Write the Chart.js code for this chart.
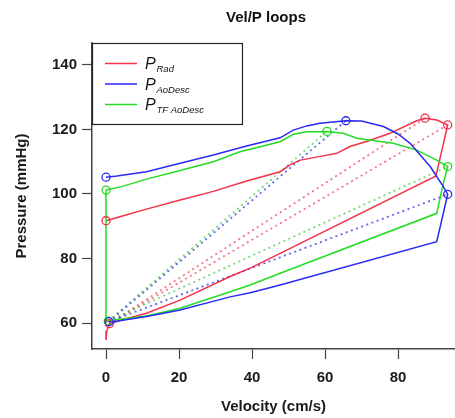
<!DOCTYPE html>
<html><head><meta charset="utf-8">
<script src="https://cdn.jsdelivr.net/npm/chart.js@4.4.1/dist/chart.umd.min.js"></script>
<style>html,body{margin:0;padding:0;background:#fff;}canvas{display:block;}</style>
</head><body>
<canvas id="c" width="455" height="418"></canvas>
<script>
// ---- data ----
const chartTitle = 'Vel/P loops';
const xTitle = 'Velocity (cm/s)';
const yTitle = 'Pressure (mmHg)';
const xTicks = [0, 20, 40, 60, 80];
const yTicks = [60, 80, 100, 120, 140];
const seriesSubs = ['Rad', 'AoDesc', 'TF AoDesc'];

// P_Rad loop
const radVel = [0, 5, 11.1, 20.3, 29.4, 38.5, 47.7, 50.4, 53.2, 58, 63.2, 66.8, 72, 77.8, 85.1, 87.4, 90.6, 93.6, 92, 90.4, 47.7, 39.5, 34, 20.3, 11.1, 5, 2, 0.9, 0.2, 0];
const radP   = [91.7, 93.3, 95.3, 98.1, 100.8, 104.0, 106.9, 109, 110.5, 111.5, 112.6, 114.7, 116.5, 118.8, 122.7, 123.5, 122.9, 121.4, 113.6, 105.6, 81.6, 77.0, 74.4, 67.1, 63.0, 61.2, 60.1, 59.7, 57.5, 54.7];
// P_AoDesc loop
const aoVel = [0, 3, 11.1, 20.3, 29.4, 38.5, 47.7, 51.3, 55, 58.6, 65.7, 70, 76, 80, 83.3, 88.8, 92.4, 93.6, 90.6, 47.7, 39.5, 34, 20.3, 11.1, 2, 0.8];
const aoP   = [105.2, 105.6, 106.9, 109.5, 112.1, 114.9, 117.4, 119.8, 121.1, 121.9, 122.7, 122.6, 120.9, 118.6, 115.7, 108.5, 102.3, 99.9, 85.2, 71.8, 69.4, 68.1, 64.0, 62.0, 60.4, 60.4];
// P_TF AoDesc loop
const tfVel = [0, 4, 11.1, 20.3, 29.4, 36.7, 47.7, 51.3, 55, 58.6, 60.5, 65, 68.7, 78.7, 85.1, 90.6, 93.6, 92.4, 90.6, 47.7, 39.5, 34, 20.3, 11.1, 2, 0.6, 0, 0];
const tfP   = [101.2, 102.2, 104.6, 107.3, 110.0, 113.1, 116.2, 118.5, 119.3, 119.3, 119.4, 118.8, 117.3, 115.7, 113.6, 110.5, 108.5, 103.3, 94.0, 75.4, 71.8, 69.7, 64.6, 62.2, 60.9, 60.6, 60.3, 101.2];

// markers: [start, foot, point A, point B]
const radMkVel = [0, 0.9, 87.4, 93.6];
const radMkP   = [91.7, 59.8, 123.5, 121.4];
const aoMkVel  = [0, 0.8, 65.7, 93.6];
const aoMkP    = [105.2, 60.4, 122.7, 99.9];
const tfMkVel  = [0, 0.6, 60.5, 93.6];
const tfMkP    = [101.2, 60.6, 119.4, 108.5];

// ---- styles ----
const F = '"Liberation Sans", Arial, sans-serif';
const RED = '#f0324a', BLUE = '#2a2af2', GREEN = '#24dc24';
const RED_D = 'rgba(240,60,85,0.7)', BLUE_D = 'rgba(50,50,230,0.75)', GREEN_D = 'rgba(60,200,60,0.7)';

function pts(xs, ys) { return xs.map((x, i) => ({x: x, y: ys[i]})); }
function loop(xs, ys, color) {
  return {data: pts(xs, ys), showLine: true, borderColor: color, borderWidth: 1.5, pointRadius: 0, tension: 0, fill: false};
}
function dots(xs, ys, color, j) {
  return {data: [{x: xs[1], y: ys[1]}, {x: xs[j], y: ys[j]}], showLine: true, borderColor: color,
          borderWidth: 1.8, borderDash: [2, 3.5], pointRadius: 0, fill: false};
}
function marks(xs, ys, color) {
  return {data: pts(xs, ys), showLine: false, pointRadius: 4, pointHoverRadius: 4, pointStyle: 'circle',
          pointBorderColor: color, pointBackgroundColor: 'rgba(0,0,0,0)', pointBorderWidth: 1.3};
}

const datasets = [
  marks(aoMkVel, aoMkP, BLUE),
  marks(tfMkVel, tfMkP, GREEN),
  marks(radMkVel, radMkP, RED),
  loop(aoVel, aoP, BLUE),
  loop(tfVel, tfP, GREEN),
  loop(radVel, radP, RED),
  dots(aoMkVel, aoMkP, BLUE_D, 2), dots(aoMkVel, aoMkP, BLUE_D, 3),
  dots(tfMkVel, tfMkP, GREEN_D, 2), dots(tfMkVel, tfMkP, GREEN_D, 3),
  dots(radMkVel, radMkP, RED_D, 2), dots(radMkVel, radMkP, RED_D, 3)
];

const legendEntries = [
  {color: RED, sub: seriesSubs[0]},
  {color: BLUE, sub: seriesSubs[1]},
  {color: GREEN, sub: seriesSubs[2]}
];

const extras = {
  id: 'extras',
  afterDraw(chart) {
    const c = chart.ctx;
    c.save();
    // title
    c.fillStyle = '#111';
    c.font = 'bold 15px ' + F;
    c.textAlign = 'center'; c.textBaseline = 'middle';
    c.fillText(chartTitle, 266, 18);
    // legend box
    c.fillStyle = '#fff';
    c.fillRect(92, 43, 150, 81);
    c.strokeStyle = '#222'; c.lineWidth = 1.2;
    c.strokeRect(92.5, 43.5, 150, 81);
    legendEntries.forEach((e, i) => {
      const y = 63.5 + i * 20.5;
      c.strokeStyle = e.color; c.lineWidth = 1.5;
      c.beginPath(); c.moveTo(105, y); c.lineTo(137, y); c.stroke();
      c.fillStyle = '#111'; c.textAlign = 'left'; c.textBaseline = 'alphabetic';
      c.font = 'italic 16px ' + F;
      c.fillText('P', 145, y + 5.5);
      c.font = 'italic 9.5px ' + F;
      c.fillText(e.sub, 156.5, y + 8.5);
    });
    c.restore();
  }
};

new Chart(document.getElementById('c'), {
  type: 'scatter',
  data: {datasets: datasets},
  plugins: [extras],
  options: {
    responsive: false, animation: false, devicePixelRatio: 1,
    layout: {autoPadding: false, padding: {top: 43, right: 0, left: 0, bottom: 0}},
    plugins: {legend: {display: false}, title: {display: false}, tooltip: {enabled: false}},
    scales: {
      x: {
        type: 'linear', min: -3.84, max: 95.6,
        afterBuildTicks: s => { s.ticks = xTicks.map(v => ({value: v})); },
        afterFit: s => { s.height = 69; s.paddingLeft = 0; s.paddingRight = 0; },
        grid: {drawOnChartArea: false, drawTicks: true, tickLength: 10, tickColor: '#444', tickWidth: 1.2},
        border: {display: true, color: '#444', width: 1.5},
        ticks: {color: '#1a1a1a', font: {family: F, size: 15, weight: 'bold'}, padding: 10, maxRotation: 0, autoSkip: false},
        title: {display: true, text: xTitle, color: '#1a1a1a', font: {family: F, size: 15, weight: 'bold'}, padding: {top: 2, bottom: 2}}
      },
      y: {
        type: 'linear', min: 51.94, max: 146.8,
        afterBuildTicks: s => { s.ticks = yTicks.map(v => ({value: v})); },
        afterFit: s => { s.width = 92; s.paddingTop = 0; s.paddingBottom = 0; },
        grid: {drawOnChartArea: false, drawTicks: true, tickLength: 10, tickColor: '#444', tickWidth: 1.2},
        border: {display: true, color: '#444', width: 1.5},
        ticks: {color: '#1a1a1a', font: {family: F, size: 15, weight: 'bold'}, padding: 5, autoSkip: false},
        title: {display: true, text: yTitle, color: '#1a1a1a', font: {family: F, size: 15, weight: 'bold'}, padding: {top: 13, bottom: 0}}
      }
    }
  }
});
</script>
</body></html>
